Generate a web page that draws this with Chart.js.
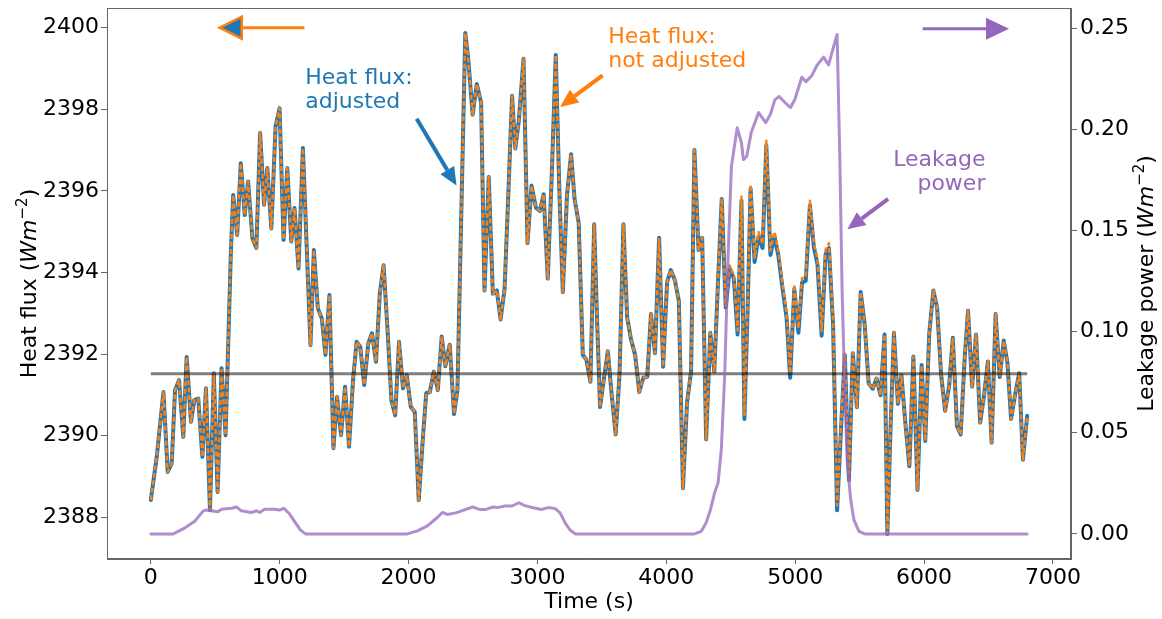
<!DOCTYPE html>
<html lang="en">
<head>
  <meta charset="UTF-8" />
  <title>Heat flux and leakage power</title>
  <script src="https://cdn.jsdelivr.net/npm/chart.js"></script>
  <style>
    body { margin: 0; background: #fff; }
    canvas { display: block; }
  </style>
</head>
<body>
  <canvas id="fluxChart" width="1162" height="619"></canvas>

  <script>
    // heat flux samples (s, W m^-2)
    const timeS = [
      0, 46, 98, 131, 162, 188, 219, 252, 278, 312, 337, 368, 400, 428, 459, 489, 518, 549, 580, 621,
      639, 670, 698, 729, 755, 788, 819, 848, 879, 904, 935, 968, 999, 1030, 1059, 1090, 1115, 1146, 1180, 1239,
      1265, 1296, 1327, 1355, 1386, 1417, 1445, 1476, 1507, 1538, 1569, 1597, 1625, 1656, 1687, 1716, 1747, 1777, 1806, 1836,
      1867, 1896, 1926, 1957, 1986, 2017, 2048, 2079, 2108, 2137, 2165, 2196, 2227, 2257, 2285, 2319, 2353, 2379, 2440, 2463,
      2497, 2529, 2563, 2589, 2622, 2654, 2685, 2714, 2745, 2775, 2803, 2828, 2855, 2892, 2923, 2954, 2988, 3019, 3048, 3080,
      3110, 3142, 3170, 3197, 3229, 3261, 3288, 3320, 3352, 3380, 3411, 3440, 3463, 3486, 3516, 3546, 3576, 3607, 3637, 3667,
      3696, 3726, 3758, 3790, 3821, 3852, 3881, 3912, 3944, 3975, 4006, 4035, 4066, 4097, 4129, 4161, 4192, 4218, 4250, 4278,
      4309, 4341, 4372, 4400, 4430, 4461, 4492, 4524, 4553, 4583, 4606, 4630, 4654, 4685, 4716, 4747, 4776, 4808, 4839, 4870,
      4902, 4933, 4961, 4993, 5025, 5053, 5082, 5114, 5145, 5173, 5205, 5236, 5262, 5294, 5325, 5356, 5385, 5417, 5447, 5479,
      5508, 5539, 5570, 5602, 5631, 5662, 5693, 5715, 5740, 5766, 5797, 5824, 5855, 5886, 5917, 5949, 5981, 6009, 6040, 6072,
      6101, 6132, 6163, 6195, 6223, 6255, 6284, 6315, 6341, 6373, 6403, 6435, 6466, 6495, 6524, 6555, 6587, 6618, 6647, 6675,
      6706, 6738, 6767, 6800
    ];

    const fluxAdjusted = [
      2388.42, 2389.48, 2391.07, 2389.11, 2389.32, 2391.12, 2391.36, 2389.97, 2391.93, 2390.34, 2390.87, 2390.91, 2389.48, 2391.16, 2388.17, 2391.53, 2388.62, 2391.65, 2390.01, 2394.47,
      2395.90, 2394.92, 2396.68, 2395.41, 2396.23, 2394.84, 2394.60, 2397.42, 2395.66, 2396.56, 2395.08, 2397.58, 2398.03, 2394.80, 2396.56, 2394.76, 2395.58, 2394.10, 2397.05, 2392.22,
      2394.55, 2393.12, 2392.87, 2391.98, 2393.45, 2389.69, 2390.95, 2390.01, 2391.20, 2389.73, 2391.36, 2392.30, 2392.18, 2391.24, 2392.26, 2392.51, 2391.81, 2393.49, 2394.18, 2392.63,
      2390.87, 2390.50, 2392.30, 2391.16, 2391.48, 2390.71, 2390.58, 2388.42, 2389.80, 2391.04, 2391.07, 2391.57, 2391.12, 2392.43, 2391.70, 2392.23, 2390.53, 2391.11, 2399.87, 2399.24,
      2397.87, 2398.62, 2398.16, 2393.56, 2396.34, 2393.48, 2393.56, 2392.85, 2393.60, 2396.00, 2398.33, 2397.04, 2397.71, 2399.24, 2394.72, 2396.13, 2395.59, 2395.51, 2395.92, 2393.85,
      2396.30, 2399.33, 2396.00, 2393.52, 2395.88, 2396.90, 2395.80, 2395.22, 2391.98, 2391.86, 2391.32, 2395.18, 2392.80, 2390.70, 2391.40, 2392.07, 2391.00, 2390.03, 2391.50, 2395.18,
      2392.90, 2392.36, 2391.98, 2391.07, 2391.42, 2391.44, 2392.98, 2392.02, 2394.85, 2391.69, 2393.77, 2394.06, 2393.81, 2393.31, 2388.71, 2390.82, 2391.57, 2397.00, 2394.55, 2394.85,
      2389.91, 2392.52, 2391.57, 2393.70, 2395.80, 2393.14, 2394.10, 2393.85, 2392.48, 2395.76, 2390.41, 2393.00, 2396.05, 2394.26, 2394.89, 2394.60, 2397.12, 2394.43, 2394.89, 2394.40,
      2393.60, 2392.90, 2391.42, 2393.60, 2392.52, 2393.75, 2393.80, 2395.65, 2394.62, 2394.20, 2392.45, 2394.45, 2394.60, 2392.70, 2388.17, 2390.20, 2391.98, 2388.91, 2392.02, 2390.70,
      2393.52, 2392.73, 2391.28, 2391.15, 2391.40, 2390.99, 2392.48, 2387.59, 2390.20, 2392.52, 2390.78, 2391.48, 2390.30, 2389.25, 2391.94, 2388.67, 2391.73, 2389.87, 2392.50, 2393.56,
      2393.14, 2391.50, 2390.61, 2391.24, 2392.40, 2390.24, 2390.03, 2391.90, 2393.06, 2391.20, 2392.48, 2390.32, 2391.00, 2391.82, 2389.83, 2392.98, 2391.44, 2392.33, 2391.78, 2390.41,
      2391.00, 2391.53, 2389.41, 2390.49
    ];

    const fluxRaw = [
      2388.42, 2389.48, 2391.07, 2389.11, 2389.32, 2391.12, 2391.36, 2389.97, 2391.93, 2390.34, 2390.87, 2390.91, 2389.48, 2391.16, 2388.17, 2391.53, 2388.62, 2391.65, 2390.01, 2394.47,
      2395.90, 2394.92, 2396.68, 2395.41, 2396.23, 2394.84, 2394.60, 2397.42, 2395.66, 2396.56, 2395.08, 2397.58, 2398.03, 2394.80, 2396.56, 2394.76, 2395.58, 2394.10, 2397.05, 2392.22,
      2394.55, 2393.12, 2392.87, 2391.98, 2393.45, 2389.69, 2390.95, 2390.01, 2391.20, 2389.73, 2391.36, 2392.30, 2392.18, 2391.24, 2392.26, 2392.51, 2391.81, 2393.49, 2394.18, 2392.63,
      2390.87, 2390.50, 2392.30, 2391.16, 2391.48, 2390.71, 2390.58, 2388.42, 2389.80, 2391.04, 2391.07, 2391.57, 2391.12, 2392.43, 2391.70, 2392.23, 2390.53, 2391.11, 2399.87, 2399.24,
      2397.87, 2398.62, 2398.16, 2393.56, 2396.34, 2393.48, 2393.56, 2392.85, 2393.60, 2396.00, 2398.33, 2397.04, 2397.71, 2399.24, 2394.72, 2396.13, 2395.59, 2395.51, 2395.92, 2393.85,
      2396.30, 2399.33, 2396.00, 2393.52, 2395.88, 2396.90, 2395.80, 2395.22, 2391.98, 2391.86, 2391.32, 2395.18, 2392.80, 2390.70, 2391.40, 2392.07, 2391.00, 2390.03, 2391.50, 2395.18,
      2392.90, 2392.36, 2391.98, 2391.07, 2391.42, 2391.44, 2392.98, 2392.02, 2394.85, 2391.69, 2393.77, 2394.06, 2393.81, 2393.31, 2388.71, 2390.82, 2391.57, 2397.00, 2394.55, 2394.85,
      2389.91, 2392.52, 2391.57, 2393.71, 2395.82, 2393.18, 2394.17, 2393.94, 2392.58, 2395.86, 2390.51, 2393.10, 2396.15, 2394.36, 2394.99, 2394.70, 2397.23, 2394.53, 2395.00, 2394.51,
      2393.71, 2393.01, 2391.52, 2393.71, 2392.63, 2393.86, 2393.91, 2395.76, 2394.73, 2394.32, 2392.57, 2394.57, 2394.72, 2392.82, 2388.29, 2390.29, 2392.01, 2388.92, 2392.02, 2390.70,
      2393.52, 2392.73, 2391.28, 2391.15, 2391.40, 2390.99, 2392.48, 2387.59, 2390.20, 2392.52, 2390.78, 2391.48, 2390.30, 2389.25, 2391.94, 2388.67, 2391.73, 2389.87, 2392.50, 2393.56,
      2393.14, 2391.50, 2390.61, 2391.24, 2392.40, 2390.24, 2390.03, 2391.90, 2393.06, 2391.20, 2392.48, 2390.32, 2391.00, 2391.82, 2389.83, 2392.98, 2391.44, 2392.33, 2391.78, 2390.41,
      2391.00, 2391.53, 2389.41, 2390.49
    ];

    // leakage power (s, W m^-2)
    const leakTime = [
      0, 175, 265, 343, 407, 433, 520, 549, 626, 665, 703, 780, 819, 845, 883, 960, 999, 1033, 1077, 1128,
      1160, 1200, 1990, 2069, 2146, 2223, 2262, 2301, 2366, 2406, 2497, 2549, 2601, 2654, 2693, 2745, 2803, 2855, 2902, 2967,
      3033, 3085, 3138, 3176, 3215, 3255, 3294, 4218, 4271, 4309, 4343, 4375, 4402, 4427, 4453, 4479, 4505, 4550, 4583, 4598,
      4624, 4658, 4716, 4771, 4808, 4842, 4876, 4920, 4964, 4998, 5051, 5084, 5129, 5168, 5220, 5259, 5286, 5325, 5346, 5364,
      5385, 5403, 5430, 5455, 5495, 5540, 6800
    ];

    const leakPower = [
      0, 0, 0.0030, 0.0064, 0.0114, 0.0118, 0.0110, 0.0122, 0.0127, 0.0133, 0.0114, 0.0106, 0.0114, 0.0106, 0.0122, 0.0122, 0.0118, 0.0127, 0.0098, 0.0050,
      0.0020, 0, 0, 0.0015, 0.0040, 0.0081, 0.0106, 0.0096, 0.0104, 0.0113, 0.0133, 0.0121, 0.0121, 0.0133, 0.0130, 0.0138, 0.0138, 0.0154, 0.0140, 0.0129,
      0.0121, 0.0130, 0.0125, 0.0104, 0.0055, 0.0018, 0, 0, 0.0013, 0.0055, 0.0121, 0.0204, 0.0254, 0.0420, 0.0786, 0.1368, 0.1816, 0.2007, 0.1933, 0.1850,
      0.1866, 0.1982, 0.2082, 0.2032, 0.2074, 0.2145, 0.2162, 0.2132, 0.2107, 0.2148, 0.2257, 0.2235, 0.2265, 0.2315, 0.2356, 0.2318, 0.2381, 0.2468, 0.1866, 0.1201,
      0.0703, 0.0370, 0.0171, 0.0071, 0.0013, 0, 0
    ];

    const meanFlux = 2391.52;

    // tick labels
    const timeTicks = [0, 1000, 2000, 3000, 4000, 5000, 6000, 7000];
    const fluxTicks = [2388, 2390, 2392, 2394, 2396, 2398, 2400];
    const leakTicks = [0, 0.05, 0.10, 0.15, 0.20, 0.25];

    const FONT = '"DejaVu Sans", sans-serif';
    const C_BLUE = '#1f77b4';
    const C_ORANGE = '#ff7f0e';
    const C_PURPLE = '#9467bd';

    const toPoints = (xs, ys) => xs.map((x, i) => ({ x: x, y: ys[i] }));

    function richText(ctx, parts, x, y, angle) {
      ctx.save();
      ctx.translate(x, y);
      ctx.rotate(angle);
      ctx.textAlign = 'left';
      ctx.textBaseline = 'alphabetic';
      ctx.fillStyle = '#000';
      let total = 0;
      parts.forEach(p => { ctx.font = p.font; total += ctx.measureText(p.text).width; });
      let cx = -total / 2;
      parts.forEach(p => {
        ctx.font = p.font;
        ctx.fillText(p.text, cx, p.dy || 0);
        cx += ctx.measureText(p.text).width;
      });
      ctx.restore();
    }

    function arrow(ctx, x0, y0, x1, y1, o) {
      const a = Math.atan2(y1 - y0, x1 - x0);
      const bx = x1 - o.head * Math.cos(a);
      const by = y1 - o.head * Math.sin(a);
      const nx = -Math.sin(a) * o.half;
      const ny = Math.cos(a) * o.half;
      ctx.save();
      ctx.strokeStyle = o.color;
      ctx.lineWidth = o.width;
      ctx.beginPath();
      ctx.moveTo(x0, y0);
      ctx.lineTo(bx, by);
      ctx.stroke();
      ctx.beginPath();
      ctx.moveTo(x1, y1);
      ctx.lineTo(bx + nx, by + ny);
      ctx.lineTo(bx - nx, by - ny);
      ctx.closePath();
      ctx.fillStyle = o.fill || o.color;
      ctx.fill();
      if (o.edge) {
        ctx.strokeStyle = o.edge;
        ctx.lineWidth = o.edgeWidth;
        ctx.lineJoin = 'miter';
        ctx.stroke();
      }
      ctx.restore();
    }

    function label(ctx, lines, x, y, color, align) {
      ctx.save();
      ctx.font = '22px ' + FONT;
      ctx.fillStyle = color;
      ctx.textAlign = align;
      ctx.textBaseline = 'alphabetic';
      lines.forEach((s, i) => ctx.fillText(s, x, y + i * 24));
      ctx.restore();
    }

    const background = {
      id: 'background',
      beforeDraw(chart) {
        const ctx = chart.ctx;
        ctx.save();
        ctx.fillStyle = '#fff';
        ctx.fillRect(0, 0, chart.width, chart.height);
        ctx.restore();
      }
    };

    const decorations = {
      id: 'decorations',
      afterDraw(chart) {
        const ctx = chart.ctx;
        const a = chart.chartArea;
        const sx = chart.scales.x, sf = chart.scales.yFlux, sl = chart.scales.yLeak;
        const X = v => sx.getPixelForValue(v);
        const F = v => sf.getPixelForValue(v);
        const L = v => sl.getPixelForValue(v);

        // frame
        ctx.save();
        ctx.strokeStyle = '#666';
        ctx.lineWidth = 1;
        ctx.strokeRect(a.left + 0.5, a.top + 0.5, a.right - a.left - 1, a.bottom - a.top - 1);
        ctx.restore();

        // axis titles
        const reg = '22px ' + FONT, ital = 'italic 22px ' + FONT, sup = '15px ' + FONT;
        richText(ctx, [{ text: 'Time (s)', font: reg }], (a.left + a.right) / 2, 608, 0);
        richText(ctx, [
          { text: 'Heat flux (', font: reg }, { text: 'Wm', font: ital },
          { text: '\u22122', font: sup, dy: -9 }, { text: ')', font: reg }
        ], 36, (a.top + a.bottom) / 2, -Math.PI / 2);
        richText(ctx, [
          { text: 'Leakage power (', font: reg }, { text: 'Wm', font: ital },
          { text: '\u22122', font: sup, dy: -9 }, { text: ')', font: reg }
        ], 1153, (a.top + a.bottom) / 2, -Math.PI / 2);

        // axis direction arrows
        arrow(ctx, X(1192), F(2400), X(535), F(2400),
          { color: C_ORANGE, width: 3, head: 22, half: 11, fill: C_BLUE, edge: C_ORANGE, edgeWidth: 2.5 });
        arrow(ctx, X(5989), L(0.2497), X(6659), L(0.2497),
          { color: C_PURPLE, width: 3, head: 23, half: 11 });

        // series labels
        label(ctx, ['Heat flux:', 'adjusted'], X(1198), F(2398.62), C_BLUE, 'left');
        arrow(ctx, X(2063), F(2397.77), X(2372), F(2396.13), { color: C_BLUE, width: 4, head: 18, half: 8 });

        label(ctx, ['Heat flux:', 'not adjusted'], X(3549), F(2399.62), C_ORANGE, 'left');
        arrow(ctx, X(3506), F(2398.83), X(3176), F(2398.06), { color: C_ORANGE, width: 4, head: 18, half: 8 });

        label(ctx, ['Leakage', 'power'], X(6476), L(0.1818), C_PURPLE, 'right');
        arrow(ctx, X(5721), L(0.1656), X(5404), L(0.1505), { color: C_PURPLE, width: 4, head: 18, half: 8 });
      }
    };

    const tickFont = { family: FONT, size: 22 };
    const axisGrid = { drawOnChartArea: false, drawTicks: true, tickLength: 5, color: '#666', lineWidth: 1 };
    const noPadding = s => { s.paddingTop = 0; s.paddingBottom = 0; s.paddingLeft = 0; s.paddingRight = 0; };
    const fixedTicks = list => s => { s.ticks = list.map(v => ({ value: v })); };

    new Chart(document.getElementById('fluxChart'), {
      type: 'line',
      data: {
        datasets: [
          {
            label: 'Leakage power',
            data: toPoints(leakTime, leakPower),
            yAxisID: 'yLeak',
            borderColor: 'rgba(148, 103, 189, 0.75)',
            borderWidth: 3,
            order: 0
          },
          {
            label: 'Mean',
            data: [{ x: timeS[0], y: meanFlux }, { x: timeS[timeS.length - 1], y: meanFlux }],
            yAxisID: 'yFlux',
            borderColor: 'rgba(0, 0, 0, 0.5)',
            borderWidth: 3,
            borderCapStyle: 'butt',
            order: 1
          },
          {
            label: 'Heat flux: not adjusted',
            data: toPoints(timeS, fluxRaw),
            yAxisID: 'yFlux',
            borderColor: C_ORANGE,
            borderWidth: 2.5,
            borderDash: [5, 2.5],
            borderCapStyle: 'butt',
            order: 2
          },
          {
            label: 'Heat flux: adjusted',
            data: toPoints(timeS, fluxAdjusted),
            yAxisID: 'yFlux',
            borderColor: C_BLUE,
            borderWidth: 4,
            order: 3
          }
        ]
      },
      options: {
        responsive: false,
        animation: false,
        devicePixelRatio: 1,
        layout: { padding: { top: 8, left: 0, right: 0, bottom: 0 } },
        elements: {
          point: { radius: 0 },
          line: { tension: 0, borderJoinStyle: 'round', borderCapStyle: 'round' }
        },
        plugins: { legend: { display: false }, tooltip: { enabled: false } },
        scales: {
          x: {
            type: 'linear',
            position: 'bottom',
            min: -340,
            max: 7140,
            afterBuildTicks: fixedTicks(timeTicks),
            ticks: {
              autoSkip: false, maxRotation: 0, padding: 1, color: '#000', font: tickFont,
              callback: v => String(v)
            },
            grid: axisGrid,
            border: { color: '#666', width: 1 },
            afterFit(s) { s.height = 60; noPadding(s); }
          },
          yFlux: {
            type: 'linear',
            position: 'left',
            min: 2386.976,
            max: 2400.484,
            afterBuildTicks: fixedTicks(fluxTicks),
            ticks: {
              autoSkip: false, padding: 2, color: '#000', font: tickFont,
              callback: v => String(v)
            },
            grid: Object.assign({}, axisGrid, { tickLength: 6 }),
            border: { color: '#666', width: 1 },
            afterFit(s) { s.width = 107; noPadding(s); }
          },
          yLeak: {
            type: 'linear',
            position: 'right',
            min: -0.0124,
            max: 0.2599,
            afterBuildTicks: fixedTicks(leakTicks),
            ticks: {
              autoSkip: false, padding: 3, color: '#000', font: tickFont,
              callback: v => v.toFixed(2)
            },
            grid: Object.assign({}, axisGrid, { tickLength: 6 }),
            border: { color: '#666', width: 1 },
            afterFit(s) { s.width = 91; noPadding(s); }
          }
        }
      },
      plugins: [background, decorations]
    });
  </script>
</body>
</html>
